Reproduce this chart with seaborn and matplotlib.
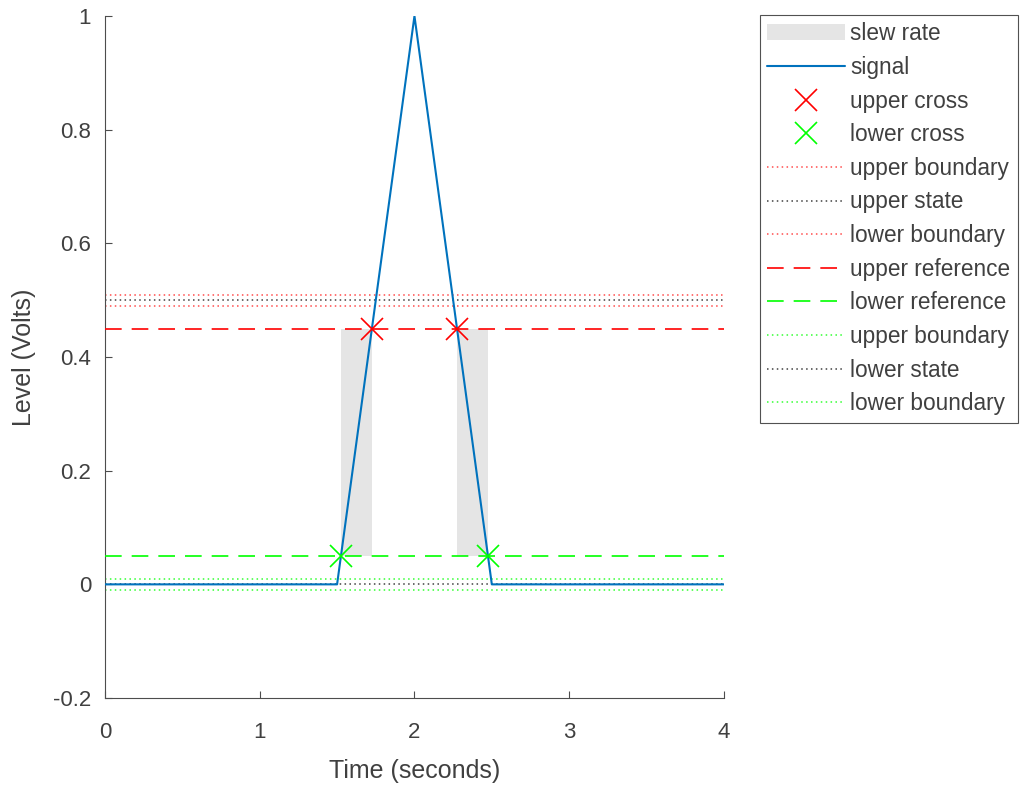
import numpy as np
import matplotlib
matplotlib.use("Agg")
import matplotlib.pyplot as plt
import seaborn as sns
from matplotlib.patches import Patch
from matplotlib.lines import Line2D

# signal (triangular pulse)
time_s = [0.0, 1.5, 2.0, 2.5, 4.0]
level_v = [0.0, 0.0, 1.0, 0.0, 0.0]

# state levels and reference levels
upper_state = 0.5
lower_state = 0.0
boundary_tol = 0.01
upper_ref = 0.45
lower_ref = 0.05

# crossing instants
upper_cross_t = [1.725, 2.275]
lower_cross_t = [1.525, 2.475]

# slew rate regions (start, end)
slew_regions = [(1.525, 1.725), (2.275, 2.475)]

sns.set_style("white")
plt.rcParams['font.family'] = ['Liberation Sans', 'DejaVu Sans']

fig = plt.figure(figsize=(10.25, 7.89), dpi=100)
ax = fig.add_axes([0.1024, 0.1153, 0.6039, 0.8644])

blue = '#0072BD'
red = '#FF0000'
green = '#00FF00'
gray = '#404040'
txt = '#404040'
dot = (1, 2.2)
dash = (10, 6)

for t0, t1 in slew_regions:
    ax.fill_between([t0, t1], lower_ref, upper_ref, color='#E5E5E5', lw=0, zorder=1)

sns.lineplot(x=time_s, y=level_v, color=blue, lw=1.5, ax=ax, zorder=4)

ax.axhline(upper_state + boundary_tol, color=red, lw=1.1, dashes=dot, alpha=0.7, zorder=2)
ax.axhline(upper_state, color=gray, lw=1.1, dashes=dot, zorder=2)
ax.axhline(upper_state - boundary_tol, color=red, lw=1.1, dashes=dot, alpha=0.7, zorder=2)
ax.axhline(upper_ref, color=red, lw=1.2, dashes=dash, zorder=3)
ax.axhline(lower_ref, color=green, lw=1.2, dashes=dash, zorder=3)
ax.axhline(lower_state + boundary_tol, color=green, lw=1.1, dashes=dot, alpha=0.8, zorder=2)
ax.axhline(lower_state, color=gray, lw=1.1, dashes=dot, zorder=2)
ax.axhline(lower_state - boundary_tol, color=green, lw=1.1, dashes=dot, alpha=0.8, zorder=2)

ax.plot(upper_cross_t, [upper_ref] * len(upper_cross_t), 'x', color=red, ms=16, mew=1.2, zorder=5)
ax.plot(lower_cross_t, [lower_ref] * len(lower_cross_t), 'x', color=green, ms=16, mew=1.2, zorder=5)

ax.set_xlim(0, 4)
ax.set_ylim(-0.2, 1)
ax.set_xticks([0, 1, 2, 3, 4])
ax.set_yticks([-0.2, 0, 0.2, 0.4, 0.6, 0.8, 1])
ax.set_yticklabels(['-0.2', '0', '0.2', '0.4', '0.6', '0.8', '1'])
ax.tick_params(direction='in', length=5, width=0.8, color='#4d4d4d', labelcolor=txt,
               labelsize=16, bottom=True, left=True)
ax.tick_params(axis='x', pad=17)
ax.tick_params(axis='y', pad=10)
for s in ['top', 'right']:
    ax.spines[s].set_visible(False)
for s in ['left', 'bottom']:
    ax.spines[s].set_color('#4d4d4d')
    ax.spines[s].set_linewidth(0.8)
ax.set_xlabel('Time (seconds)', fontsize=18, color=txt, labelpad=12)
ax.set_ylabel('Level (Volts)', fontsize=18, color=txt, labelpad=12)

handles = [
    Patch(facecolor='#E5E5E5', edgecolor='none', label='slew rate'),
    Line2D([], [], color=blue, lw=1.5, label='signal'),
    Line2D([], [], ls='none', marker='x', color=red, ms=16, mew=1.2, label='upper cross'),
    Line2D([], [], ls='none', marker='x', color=green, ms=16, mew=1.2, label='lower cross'),
    Line2D([], [], color=red, lw=1.1, dashes=dot, alpha=0.7, label='upper boundary'),
    Line2D([], [], color=gray, lw=1.1, dashes=dot, label='upper state'),
    Line2D([], [], color=red, lw=1.1, dashes=dot, alpha=0.7, label='lower boundary'),
    Line2D([], [], color=red, lw=1.2, dashes=dash, label='upper reference'),
    Line2D([], [], color=green, lw=1.2, dashes=dash, label='lower reference'),
    Line2D([], [], color=green, lw=1.1, dashes=dot, alpha=0.8, label='upper boundary'),
    Line2D([], [], color=gray, lw=1.1, dashes=dot, label='lower state'),
    Line2D([], [], color=green, lw=1.1, dashes=dot, alpha=0.8, label='lower boundary'),
]
leg = fig.legend(handles=handles, loc='upper left', bbox_to_anchor=(0.7415, 0.981),
                 fontsize=16.3, handlelength=3.45, handletextpad=0.22, labelspacing=0.47,
                 borderpad=0.32, borderaxespad=0, frameon=True, fancybox=False)
leg.get_frame().set_edgecolor('#262626')
leg.get_frame().set_linewidth(0.8)
for t in leg.get_texts():
    t.set_color(txt)

fig.savefig('out.png', dpi=100)
